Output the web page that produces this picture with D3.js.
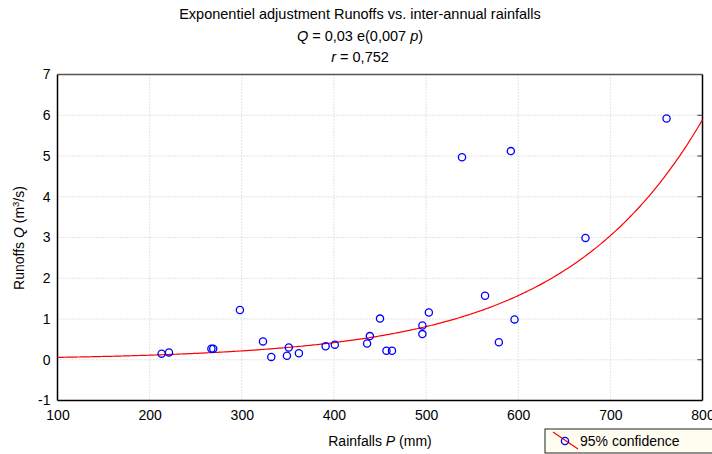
<!DOCTYPE html>
<html><head><meta charset="utf-8">
<script src="https://cdn.jsdelivr.net/npm/d3@7"></script>
<style>body{margin:0;background:#fff}svg{display:block;font-family:"Liberation Sans",Arial,sans-serif}</style>
</head><body><svg id="c" width="712" height="454"></svg>
<script>
const rainfall = [213,221,267,269,298,323,332,349,351,362,391,401,436,439,450,457,463,496,496,503,539,564,579,592,596,673,761];
const runoff   = [0.15,0.18,0.27,0.27,1.22,0.45,0.07,0.10,0.30,0.16,0.33,0.37,0.40,0.58,1.01,0.22,0.22,0.84,0.63,1.16,4.97,1.57,0.43,5.12,0.99,2.99,5.92];
const xTicks = [100,200,300,400,500,600,700,800];
const yTicks = [-1,0,1,2,3,4,5,6,7];
const fitA = 0.03, fitB = 0.0066;

const svg = d3.select("#c");
const L=57.5, R=702.5, T=74.5, B=400.5;
const x = d3.scaleLinear().domain([100,800]).range([L,R]);
const y = d3.scaleLinear().domain([-1,7]).range([B,T]);

// grid
svg.append("g").selectAll("line").data(xTicks.slice(1,-1)).join("line")
  .attr("x1",d=>x(d)).attr("x2",d=>x(d)).attr("y1",T).attr("y2",B)
  .attr("stroke","#c8c8c8").attr("stroke-dasharray","1,2");
svg.append("g").selectAll("line").data(yTicks.slice(1,-1)).join("line")
  .attr("y1",d=>y(d)).attr("y2",d=>y(d)).attr("x1",L).attr("x2",R)
  .attr("stroke","#c8c8c8").attr("stroke-dasharray","1,2");

// frame
svg.append("line").attr("x1",L).attr("x2",R).attr("y1",T).attr("y2",T).attr("stroke","#555").attr("stroke-width",1.5);
svg.append("line").attr("x1",R).attr("x2",R).attr("y1",T).attr("y2",B).attr("stroke","#000").attr("stroke-width",1.5);
svg.append("line").attr("x1",L).attr("x2",L).attr("y1",T).attr("y2",B).attr("stroke","#000").attr("stroke-width",1.5);
svg.append("line").attr("x1",L).attr("x2",R).attr("y1",B).attr("y2",B).attr("stroke","#000").attr("stroke-width",1.5);

// right ticks
svg.append("g").selectAll("line").data(yTicks.slice(1,-1)).join("line")
  .attr("x1",R-5).attr("x2",R).attr("y1",d=>y(d)).attr("y2",d=>y(d)).attr("stroke","#333");

// axes labels (ticks)
const xAxis = d3.axisBottom(x).tickValues(xTicks).tickSize(0).tickPadding(10).tickFormat(d=>String(d));
const gx = svg.append("g").attr("transform",`translate(0,${B})`).call(xAxis);
gx.select(".domain").remove();
gx.selectAll("text").attr("font-size",14).attr("fill","#000").attr("font-family","Liberation Sans, Arial, sans-serif");
const yAxis = d3.axisLeft(y).tickValues(yTicks).tickSize(0).tickPadding(7).tickFormat(d=>String(d));
const gy = svg.append("g").attr("transform",`translate(${L},0)`).call(yAxis);
gy.select(".domain").remove();
gy.selectAll("text").attr("font-size",14).attr("fill","#000").attr("font-family","Liberation Sans, Arial, sans-serif");

// fit curve
const ps = d3.range(100,800.1,2);
svg.append("path").datum(ps)
  .attr("d",d3.line().x(p=>x(p)).y(p=>y(fitA*Math.exp(fitB*p))))
  .attr("fill","none").attr("stroke","#f00").attr("stroke-width",1.2);

// points
svg.append("g").selectAll("circle").data(rainfall.map((p,i)=>[p,runoff[i]])).join("circle")
  .attr("cx",d=>x(d[0])).attr("cy",d=>y(d[1])).attr("r",3.6)
  .attr("fill","none").attr("stroke","#00f").attr("stroke-width",1.3);

// titles
const t = svg.append("g").attr("font-size",14.5).attr("text-anchor","middle").attr("fill","#000");
t.append("text").attr("x",360).attr("y",19).text("Exponentiel adjustment Runoffs vs. inter-annual rainfalls");
const t2 = t.append("text").attr("x",360).attr("y",41);
t2.append("tspan").attr("font-style","italic").text("Q");
t2.append("tspan").text(" = 0,03 e(0,007 ");
t2.append("tspan").attr("font-style","italic").text("p");
t2.append("tspan").text(")");
const t3 = t.append("text").attr("x",360).attr("y",62);
t3.append("tspan").attr("font-style","italic").text("r");
t3.append("tspan").text(" = 0,752");

// x label
const xl = svg.append("text").attr("x",380).attr("y",446).attr("text-anchor","middle").attr("font-size",14);
xl.append("tspan").text("Rainfalls  ");
xl.append("tspan").attr("font-style","italic").text("P");
xl.append("tspan").text(" (mm)");

// y label
const yl = svg.append("text").attr("transform","translate(24,238) rotate(-90)").attr("text-anchor","middle").attr("font-size",14);
yl.append("tspan").text("Runoffs ");
yl.append("tspan").attr("font-style","italic").text("Q");
yl.append("tspan").text(" (m");
yl.append("tspan").attr("font-size",9.5).attr("dy",-5).text("3");
yl.append("tspan").attr("dy",5).text("/s)");

// legend
const lg = svg.append("g");
lg.append("rect").attr("x",545).attr("y",429).attr("width",175).attr("height",24)
  .attr("fill","#fffcf0").attr("stroke","#222").attr("stroke-width",1);
lg.append("line").attr("x1",553).attr("y1",432).attr("x2",578).attr("y2",449).attr("stroke","#f00").attr("stroke-width",1.2);
lg.append("circle").attr("cx",565).attr("cy",441).attr("r",3.6).attr("fill","none").attr("stroke","#00f").attr("stroke-width",1.3);
lg.append("text").attr("x",580).attr("y",446).attr("font-size",14).text("95% confidence");
</script></body></html>
